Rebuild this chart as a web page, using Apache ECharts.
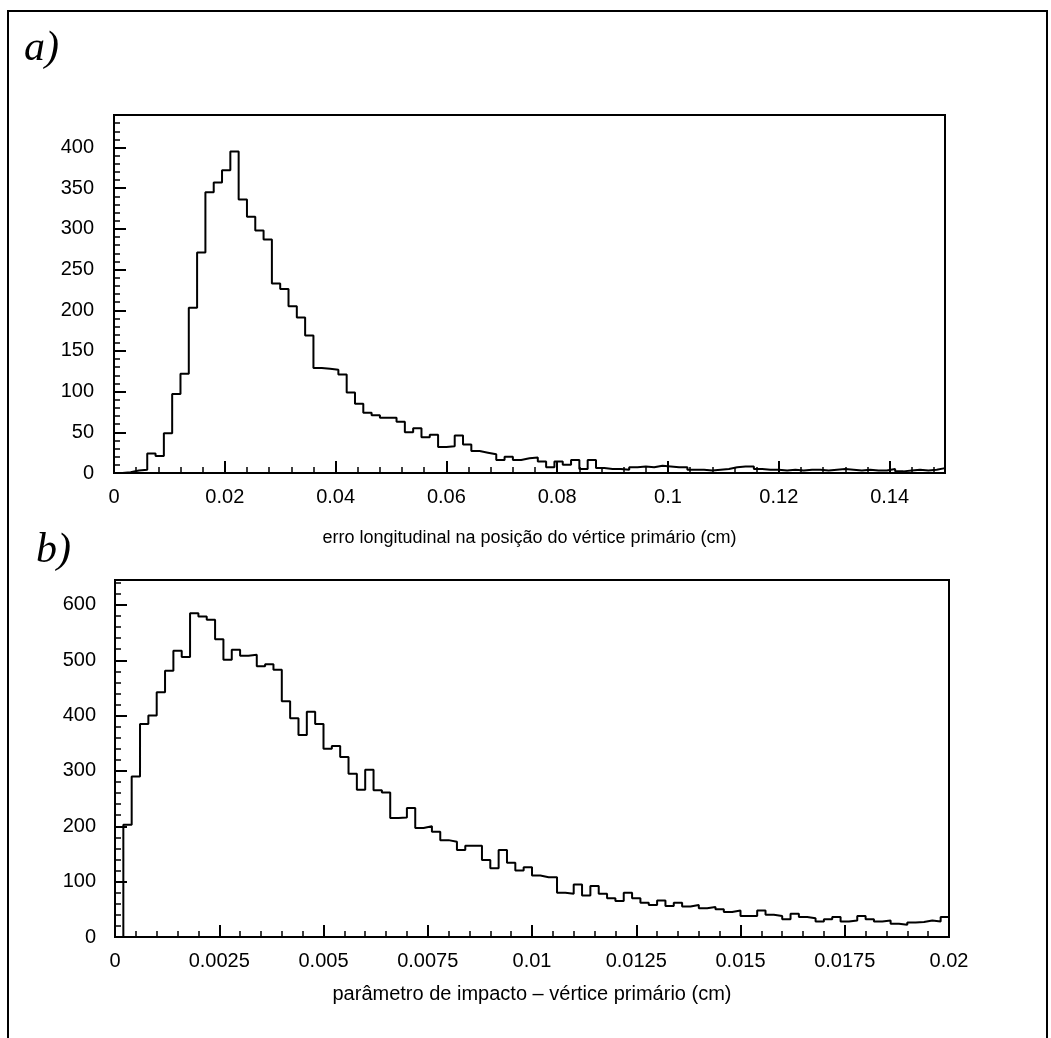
<!DOCTYPE html>
<html>
<head>
<meta charset="utf-8">
<script src="https://cdn.jsdelivr.net/npm/echarts@6/dist/echarts.min.js"></script>
<style>
  html, body { margin: 0; padding: 0; background: #fff; }
  #chart { width: 1051px; height: 1038px; }
</style>
</head>
<body>
<div id="chart"></div>
<script>
// a) longitudinal error on the primary vertex position, 100 bins of 0.0015 cm
const binWidthA = 0.0015;
const countsA = [
  0, 1, 3, 4, 24, 21, 49, 97, 122, 203,
  271, 345, 357, 372, 395, 336, 315, 298, 287, 233,
  226, 205, 191, 169, 129, 128, 127, 121, 99, 85,
  74, 71, 68, 68, 63, 50, 55, 44, 47, 32,
  33, 46, 35, 27, 25, 23, 16, 20, 16, 18,
  19, 14, 7, 14, 10, 16, 5, 16, 6, 5,
  5, 4, 7, 8, 7, 9, 8, 7, 7, 4,
  4, 3, 4, 5, 7, 8, 8, 5, 4, 4,
  3, 4, 3, 4, 4, 3, 4, 5, 4, 3,
  4, 3, 3, 5, 2, 3, 4, 3, 4, 6,
];
const xLabelsA = ["0", "0.02", "0.04", "0.06", "0.08", "0.1", "0.12", "0.14"];
const yLabelsA = ["0", "50", "100", "150", "200", "250", "300", "350", "400"];

// b) impact parameter to the primary vertex, 100 bins of 0.0002 cm
const binWidthB = 0.0002;
const countsB = [
  0, 203, 290, 385, 400, 442, 481, 517, 506, 585,
  579, 573, 538, 501, 519, 508, 510, 489, 493, 483,
  426, 395, 365, 407, 385, 340, 345, 325, 295, 266,
  302, 265, 261, 215, 216, 233, 197, 200, 190, 175,
  172, 157, 165, 165, 139, 124, 157, 134, 120, 126,
  111, 108, 108, 80, 78, 95, 75, 92, 78, 70,
  65, 80, 70, 62, 58, 66, 56, 62, 55, 58,
  52, 54, 50, 45, 48, 38, 38, 48, 40, 38,
  32, 42, 36, 34, 28, 32, 36, 28, 30, 38,
  32, 28, 30, 24, 22, 26, 27, 30, 28, 36,
];
const xLabelsB = ["0", "0.0025", "0.005", "0.0075", "0.01", "0.0125", "0.015", "0.0175", "0.02"];
const yLabelsB = ["0", "100", "200", "300", "400", "500", "600"];

const titleA = "erro longitudinal na posição do vértice primário (cm)";
const titleB = "parâmetro de impacto – vértice primário (cm)";

const chart = echarts.init(document.getElementById("chart"));

// bin edges -> step points (horizontal first, then vertical)
function toSteps(counts, width) {
  const pts = counts.map((c, i) => [i * width, c]);
  pts.push([counts.length * width, counts[counts.length - 1]]);
  return pts;
}

function pickLabel(labels, interval) {
  return (value) => {
    const idx = Math.round(value / interval);
    if (Math.abs(value - idx * interval) > interval * 1e-6) return "";
    return labels[idx] ?? "";
  };
}

const font = "'Liberation Sans', Arial, sans-serif";
const black = "#000";

const axisCommon = {
  axisLine: { show: true, lineStyle: { color: black, width: 2 } },
  axisTick: { show: true, inside: true, length: 12, lineStyle: { color: black, width: 2 } },
  minorTick: { show: true, splitNumber: 5, length: 6, lineStyle: { color: black, width: 1.5 } },
  splitLine: { show: false },
  minorSplitLine: { show: false },
};

const labelStyle = { color: black, fontFamily: font, fontSize: 20 };

const option = {
  backgroundColor: "#fff",
  animation: false,
  grid: [
    { left: 114, top: 115, width: 831, height: 358, show: true, borderColor: black, borderWidth: 2 },
    { left: 115, top: 580, width: 834, height: 357, show: true, borderColor: black, borderWidth: 2 },
  ],
  xAxis: [
    {
      gridIndex: 0, type: "value", min: 0, max: 0.15, interval: 0.02,
      ...axisCommon,
      axisLabel: { ...labelStyle, margin: 14, showMaxLabel: false, formatter: pickLabel(xLabelsA, 0.02) },
      name: titleA, nameLocation: "middle", nameGap: 56,
      nameTextStyle: { color: black, fontFamily: font, fontSize: 18 },
    },
    {
      gridIndex: 1, type: "value", min: 0, max: 0.02, interval: 0.0025,
      ...axisCommon,
      axisLabel: { ...labelStyle, margin: 14, formatter: pickLabel(xLabelsB, 0.0025) },
      name: titleB, nameLocation: "middle", nameGap: 47,
      nameTextStyle: { color: black, fontFamily: font, fontSize: 20 },
    },
  ],
  yAxis: [
    {
      gridIndex: 0, type: "value", min: 0, max: 440, interval: 50,
      ...axisCommon,
      axisLabel: { ...labelStyle, margin: 20, showMaxLabel: false, formatter: pickLabel(yLabelsA, 50) },
    },
    {
      gridIndex: 1, type: "value", min: 0, max: 645, interval: 100,
      ...axisCommon,
      axisLabel: { ...labelStyle, margin: 19, showMaxLabel: false, formatter: pickLabel(yLabelsB, 100) },
    },
  ],
  series: [
    {
      type: "line", xAxisIndex: 0, yAxisIndex: 0, step: "end", showSymbol: false,
      lineStyle: { color: black, width: 2 },
      data: toSteps(countsA, binWidthA),
    },
    {
      type: "line", xAxisIndex: 1, yAxisIndex: 1, step: "end", showSymbol: false,
      lineStyle: { color: black, width: 2 },
      data: toSteps(countsB, binWidthB),
    },
  ],
  graphic: [
    // page frame (open at the bottom)
    {
      type: "polyline",
      shape: { points: [[8, 1038], [8, 11], [1047, 11], [1047, 1038]] },
      style: { stroke: black, lineWidth: 2, fill: null },
    },
    {
      type: "text", left: 24, top: 28,
      style: { text: "a)", fill: black, font: "italic 42px 'Liberation Serif', serif" },
    },
    {
      type: "text", left: 36, top: 530,
      style: { text: "b)", fill: black, font: "italic 42px 'Liberation Serif', serif" },
    },
  ],
};

chart.setOption(option);
</script>
</body>
</html>
